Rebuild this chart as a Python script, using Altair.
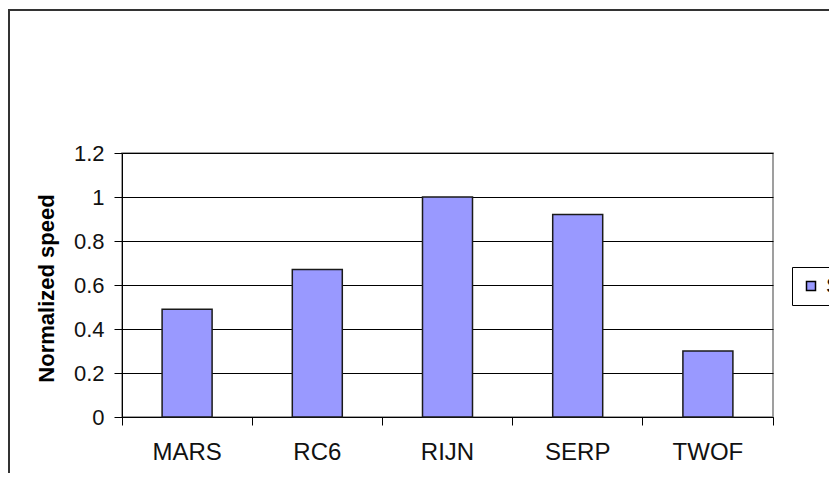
import altair as alt
import pandas as pd

categories = ["MARS", "RC6", "RIJN", "SERP", "TWOF"]
speeds = [0.49, 0.67, 1.0, 0.92, 0.30]
series_name = "Series1"
y_ticks = [0, 0.2, 0.4, 0.6, 0.8, 1.0, 1.2]

df = pd.DataFrame({"cat": categories, "speed": speeds, "series": [series_name] * len(categories)})

FONT = "Liberation Sans"

frame = alt.Chart(pd.DataFrame({"k": [0]})).mark_rect(
    fill="transparent", stroke="#333333", strokeWidth=2
).encode(
    x=alt.value(-113), x2=alt.value(800),
    y=alt.value(-143), y2=alt.value(400),
)

bars = alt.Chart(df).mark_bar(size=50, stroke="#1a1a1a", strokeWidth=1.5, opacity=1).encode(
    x=alt.X("cat:N", sort=categories,
            scale=alt.Scale(paddingInner=0, paddingOuter=0),
            axis=alt.Axis(title=None, labelAngle=0, bandPosition=1, tickExtra=True,
                          grid=False, tickSize=8, labelPadding=15, labelBaseline="top",
                          labelFontSize=24, labelFont=FONT, labelColor="#111111",
                          domainColor="black", tickColor="black")),
    y=alt.Y("speed:Q", scale=alt.Scale(domain=[0, 1.2], nice=False),
            axis=alt.Axis(title="Normalized speed", values=y_ticks, format="~g",
                          grid=True, gridColor="black", gridWidth=1,
                          tickSize=8, labelPadding=10, labelFontSize=22,
                          labelFont=FONT, labelColor="#111111",
                          domainColor="black", tickColor="black",
                          titleFont=FONT, titleFontSize=22, titleFontWeight="bold",
                          titleColor="black", titleAngle=270, titleX=-76, titleY=135,
                          titleAlign="center", titleBaseline="middle")),
    color=alt.Color("series:N", scale=alt.Scale(range=["#9999FF"]),
                    legend=alt.Legend(orient="none", legendX=670, legendY=114, title=None,
                                      strokeColor="black", padding=8,
                                      labelFontSize=22, labelFont=FONT, labelColor="#111111",
                                      symbolType="square", symbolSize=81,
                                      symbolStrokeColor="black", symbolStrokeWidth=1.5,
                                      symbolFillColor="#9999FF", labelOffset=4)),
)

chart = alt.layer(frame, bars).properties(
    width=651, height=264,
    autosize=alt.AutoSizeParams(type="none"),
    padding={"left": 114, "top": 145, "right": 56, "bottom": 56},
    background="white",
).configure_view(stroke="#808080", strokeWidth=1.5)

chart.save("out.html", embed_options={"renderer": "svg", "actions": False})
